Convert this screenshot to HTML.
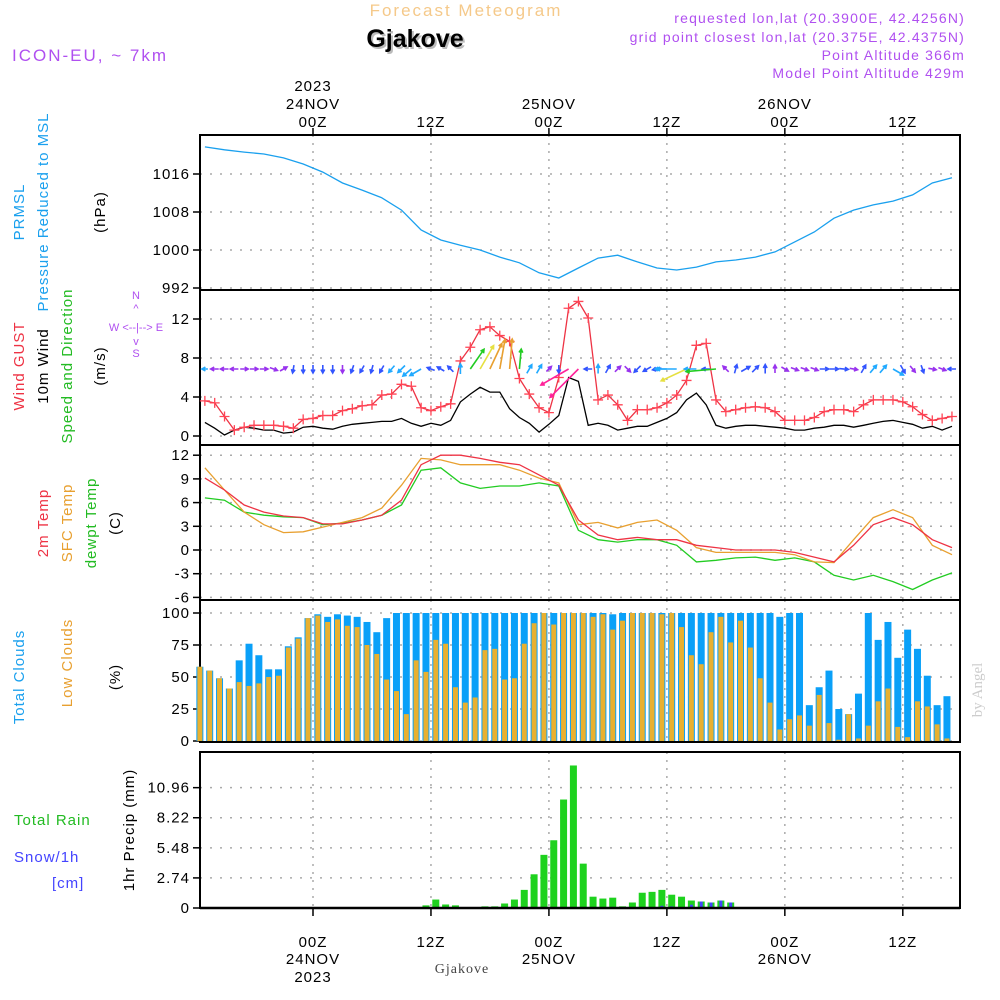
<!DOCTYPE html>
<html><head><meta charset="utf-8"><style>
body{margin:0;background:#fff;}
svg{display:block;font-family:"Liberation Sans",sans-serif;}
.t{font-size:15px;letter-spacing:1px;}
</style></head><body>
<svg id="c" width="1000" height="1000" xmlns="http://www.w3.org/2000/svg">
<text x="466" y="16" text-anchor="middle" fill="#f5c98a" style="font-size:17px;letter-spacing:2px">Forecast Meteogram</text>
<text x="417" y="49" text-anchor="middle" fill="#bbb" style="font-size:25px;font-weight:bold">Gjakove</text>
<text x="415" y="47" text-anchor="middle" fill="#000" style="font-size:25px;font-weight:bold">Gjakove</text>
<text x="12" y="61" fill="#b050f0" style="font-size:17px;letter-spacing:2px">ICON-EU, ~ 7km</text>
<g fill="#b050f0" text-anchor="end" style="font-size:14px;letter-spacing:1.2px">
<text x="965" y="23">requested lon,lat (20.3900E, 42.4256N)</text>
<text x="965" y="42">grid point closest lon,lat (20.375E, 42.4375N)</text>
<text x="965" y="60">Point Altitude 366m</text>
<text x="965" y="78">Model Point Altitude 429m</text>
</g>
<g id="axes"></g>
<g id="marks"></g>
<g class="t">
<text transform="translate(24,212) rotate(-90)" text-anchor="middle" fill="#1aa0ee">PRMSL</text>
<text transform="translate(48,212) rotate(-90)" text-anchor="middle" fill="#1aa0ee">Pressure Reduced to MSL</text>
<text transform="translate(105,212) rotate(-90)" text-anchor="middle" fill="#000">(hPa)</text>
<text transform="translate(24,366) rotate(-90)" text-anchor="middle" fill="#ee3344">Wind GUST</text>
<text transform="translate(48,366) rotate(-90)" text-anchor="middle" fill="#000">10m Wind</text>
<text transform="translate(72,366) rotate(-90)" text-anchor="middle" fill="#22bb22">Speed and Direction</text>
<text transform="translate(105,366) rotate(-90)" text-anchor="middle" fill="#000">(m/s)</text>
<text transform="translate(48,523) rotate(-90)" text-anchor="middle" fill="#ee3344">2m Temp</text>
<text transform="translate(72,523) rotate(-90)" text-anchor="middle" fill="#e8a030">SFC Temp</text>
<text transform="translate(96,523) rotate(-90)" text-anchor="middle" fill="#22bb22">dewpt Temp</text>
<text transform="translate(120,523) rotate(-90)" text-anchor="middle" fill="#000">(C)</text>
<text transform="translate(24,677) rotate(-90)" text-anchor="middle" fill="#1aa0ee">Total Clouds</text>
<text transform="translate(72,663) rotate(-90)" text-anchor="middle" fill="#e8a030">Low Clouds</text>
<text transform="translate(120,677) rotate(-90)" text-anchor="middle" fill="#000">(%)</text>
<text x="14" y="825" fill="#22bb22">Total  Rain</text>
<text x="14" y="862" fill="#4444ff">Snow/1h</text>
<text x="52" y="888" fill="#4444ff">[cm]</text>
<text transform="translate(134,830) rotate(-90)" text-anchor="middle" fill="#000">1hr Precip (mm)</text>
</g>
<g fill="#b050f0" style="font-size:11px" text-anchor="middle">
<text x="136" y="299">N</text><text x="136" y="312">^</text>
<text x="136" y="331">W &lt;--|--&gt; E</text>
<text x="136" y="345">v</text><text x="136" y="357">S</text>
</g>
<text x="462" y="973" text-anchor="middle" fill="#444" style="font-size:14px;font-family:'Liberation Serif',serif;letter-spacing:1px">Gjakove</text>
<text transform="translate(982,690) rotate(-90)" text-anchor="middle" fill="#ccc" style="font-size:15px;font-family:'Liberation Serif',serif">by Angel</text>
</svg>
<script>
const NS="http://www.w3.org/2000/svg";
// ---- data ----
const pressHours=[-11,-9,-7,-5,-3,-1,1,3,5,7,9,11,13,15,17,19,21,23,25,27,29,31,33,35,37,39,41,43,45,47,49,51,53,55,57,59,61,63,65];
const pressure=[1021.7,1021.1,1020.6,1020.2,1019.4,1018.1,1016.4,1014.1,1012.6,1011,1008.4,1004.2,1002.1,1001,1000,998.5,997.3,995.2,994.1,996.2,998.3,998.9,997.5,996.2,995.8,996.4,997.5,997.9,998.5,999.6,1001.7,1003.8,1006.7,1008.4,1009.5,1010.3,1011.6,1014.1,1015.2];
const temp2m=[9.1,7.6,5.7,4.8,4.3,4.1,3.3,3.3,3.8,4.4,6.3,10.8,12,12,11.6,11.1,10.8,9.5,8.2,3.8,1.9,1.3,1.6,1.3,1.3,0.6,0.3,0,0,0,-0.3,-0.9,-1.5,0.6,3.2,4.1,3.2,1.3,0.3];
const tempSfc=[10.4,7.6,4.8,3.2,2.2,2.3,2.9,3.5,4.1,5.3,8.2,11.6,11.4,10.8,10.8,10.8,10.1,9.1,8.5,3.2,3.5,2.8,3.5,3.8,2.5,0.3,-0.3,-0.3,-0.3,-0.3,-0.6,-1.5,-1.6,1.3,4.1,5.1,4.1,0.6,-0.6];
const dewpt=[6.6,6.3,4.8,4.4,4.2,4.1,3.2,3.4,3.8,4.4,5.7,10.1,10.4,8.5,7.8,8.1,8.1,8.5,8.1,2.5,1.3,1.0,1.3,1.3,0.6,-1.5,-1.3,-1.0,-0.9,-1.3,-1.0,-1.5,-3.2,-3.8,-3.2,-4,-5,-3.8,-2.9];
const hourStart=-11; // hourly series start at 23NOV 13Z
const gust=[3.6,3.4,2.0,0.6,0.9,1.1,1.1,1.1,1.0,0.8,1.7,1.8,2.1,2.1,2.6,2.8,3.1,3.2,4.2,4.3,5.3,5.1,2.9,2.6,3.0,3.3,7.7,9.1,10.9,11.2,10.3,9.7,5.9,4.3,2.9,2.4,6.0,13.1,13.8,
12.1,3.7,4.2,3.2,1.6,2.7,2.7,2.9,3.4,4.2,5.7,9.3,9.5,3.7,2.5,2.7,2.9,3.0,2.9,2.5,1.6,1.6,1.6,1.9,2.5,2.7,2.7,2.5,3.2,3.7,3.7,3.7,3.5,3.0,2.2,1.6,1.8,2.0];
const wind10m=[1.4,0.8,0.1,0.6,0.9,0.8,0.6,0.6,0.3,0.4,0.9,1.0,0.8,0.7,1.0,1.2,1.3,1.4,1.5,1.5,1.8,1.3,1.0,1.3,1.1,1.6,3.5,4.3,5.0,4.5,4.5,2.8,1.9,1.3,0.4,1.2,2.1,6.0,5.6,
1.1,1.3,1.1,0.6,0.8,1.0,1.0,1.4,1.8,2.4,3.7,4.4,3.2,1.1,0.8,1.0,1.1,1.1,1.0,0.9,0.8,0.6,0.6,0.8,0.9,1.1,1.1,0.9,1.1,1.3,1.5,1.6,1.4,1.2,0.8,1.0,0.6,1.0];
const windDir=[270,270,270,270,90,90,90,110,60,190,180,180,180,180,180,200,210,195,210,220,225,230,240,290,300,315,0,35,30,25,10,5,5,30,30,45,180,240,225,
270,0,30,45,135,225,240,260,270,270,245,270,270,265,315,15,60,45,0,0,120,110,110,110,90,90,95,100,30,40,40,120,150,140,160,100,110,270];
const arrowLen=[6,8,8,8,8,8,8,8,8,8,8,8,8,8,8,8,8,8,8,9,10,11,13,8,8,8,10,24,27,28,30,30,20,10,10,7,8,32,40,
8,9,9,8,8,9,9,9,12,20,28,12,8,30,8,9,10,9,9,8,8,8,8,8,9,9,9,8,9,10,10,12,9,8,8,8,8,8];
const arrowColor=["c","p","p","p","p","p","p","p","p","b","b","b","b","b","p","b","b","b","b","c","c","c","c","b","b","b","c","g","y","o","o","o","g","c","c","p","b","m","m",
"b","c","b","p","p","b","b","b","c","c","y","c","b","g","p","b","b","b","b","p","p","p","p","p","b","b","b","p","b","c","c","c","b","p","b","p","p","b"];
const totalCloud=[58,55,49,41,63,76,67,56,56,74,81,96,99,97,99,98,97,93,85,96,100,100,100,100,100,100,100,100,100,100,100,100,100,100,100,100,100,100,100,
100,100,100,99,100,100,100,100,100,100,100,100,100,100,100,100,100,100,100,100,97,100,100,28,42,55,25,21,37,100,79,93,65,87,72,51,28,35];
const lowCloud=[58,55,49,41,46,43,45,50,51,73,80,96,98,93,95,90,89,75,68,48,39,21,63,54,79,76,42,30,34,71,72,48,49,76,92,100,91,100,100,
100,97,99,87,94,100,100,100,99,100,89,67,60,85,97,77,94,73,49,30,9,17,20,12,36,14,1,21,2,12,31,41,11,3,31,27,13,2];
const rain=[0,0,0,0,0,0,0,0,0,0,0,0,0,0,0,0,0,0,0,0,0,0,0,0.24,0.77,0.32,0.24,0,0,0.15,0.15,0.41,0.77,1.65,3.07,4.84,6.17,9.88,12.98,4.04,1.03,0.86,0.94,0.15,0.5,1.39,1.47,1.65,1.21,1.03,0.68,0.59,0.5,0.68,0.5,0,0,0,0,0,0,0,0,0,0,0,0,0,0,0,0,0,0,0,0,0,0];
const snow=[0,0,0,0,0,0,0,0,0,0,0,0,0,0,0,0,0,0,0,0,0,0,0,0,0,0,0,0,0,0,0,0,0,0,0,0,0,0,0,0,0,0,0.1,0,0,0.05,0,0.2,0.15,0,0.3,0.59,0.5,0.68,0.5,0.05,0,0,0,0,0,0,0,0,0,0,0,0,0,0,0,0,0,0,0,0,0];
const pressTicks=[1016,1008,1000,992];
const windTicks=[12,8,4,0];
const tempTicks=[12,9,6,3,0,-3,-6];
const cloudTicks=[100,75,50,25,0];
const rainTicks=[10.96,8.22,5.48,2.74,0];
const timeTicks=[0,12,24,36,48,60];
const timeLabels=["00Z","12Z","00Z","12Z","00Z","12Z"];
const dateLabels=["24NOV","","25NOV","","26NOV",""];
// ---- scales ----
const xh=h=>313+9.83*h;
const yP=p=>250-(p-1000)*4.75;
const yW=v=>436-v*9.75;
const yT=t=>550-t*7.9;
const yC=c=>741-c*1.28;
const yR=r=>908-r*10.98;
const colors={p:"#9933ee",b:"#3355ff",c:"#22aaff",g:"#22cc22",y:"#e6e040",o:"#e8a030",m:"#ff2299"};
const axes=document.getElementById("axes"), marks=document.getElementById("marks");
function mk(tag,attrs,parent){const e=document.createElementNS(NS,tag);for(const k in attrs)e.setAttribute(k,attrs[k]);parent.appendChild(e);return e;}
const panels=[
 {name:"pressure",top:135,bot:290,ticks:pressTicks,y:yP,fmt:v=>v},
 {name:"wind",top:290,bot:445,ticks:windTicks,y:yW,fmt:v=>v},
 {name:"temp",top:445,bot:600,ticks:tempTicks,y:yT,fmt:v=>v},
 {name:"cloud",top:600,bot:742,ticks:cloudTicks,y:yC,fmt:v=>v},
 {name:"precip",top:752,bot:908,ticks:rainTicks,y:yR,fmt:v=>v}];
panels.forEach(p=>{
 const g=mk("g",{},axes);
 
 
 timeTicks.forEach(h=>{const l=mk("line",{x1:xh(h),x2:xh(h),y1:p.top,y2:p.bot,stroke:"#aaa","stroke-dasharray":"2,6","stroke-width":1.5},g);
  });
 p.ticks.forEach(v=>{const y=p.y(v);
  const l=mk("line",{x1:200,x2:960,y1:y,y2:y,stroke:"#aaa","stroke-dasharray":"2,8","stroke-width":1.5},g);
  
  mk("line",{x1:193,x2:200,y1:y,y2:y,stroke:"#000","stroke-width":1.5},g);
  const t=mk("text",{x:190,y:y+5,"text-anchor":"end",class:"t"},g);t.textContent=p.fmt(v);
  });
 const r=mk("rect",{x:200,y:p.top,width:760,height:p.bot-p.top,fill:"none",stroke:"#000","stroke-width":2},g);
 
});
// time axis labels
timeTicks.forEach((h,i)=>{
 mk("line",{x1:xh(h),x2:xh(h),y1:128,y2:135,stroke:"#000","stroke-width":1.5},axes);
 mk("line",{x1:xh(h),x2:xh(h),y1:908,y2:916,stroke:"#000","stroke-width":1.5},axes);
 let t=mk("text",{x:xh(h),y:127,"text-anchor":"middle",class:"t"},axes);t.textContent=timeLabels[i];
 
 t=mk("text",{x:xh(h),y:947,"text-anchor":"middle",class:"t"},axes);t.textContent=timeLabels[i];
 
 if(dateLabels[i]){
  t=mk("text",{x:xh(h),y:109,"text-anchor":"middle",class:"t"},axes);t.textContent=dateLabels[i];
  
  t=mk("text",{x:xh(h),y:964,"text-anchor":"middle",class:"t"},axes);t.textContent=dateLabels[i];
  }
});
let yr=mk("text",{x:xh(0),y:91,"text-anchor":"middle",class:"t"},axes);yr.textContent="2023";

yr=mk("text",{x:xh(0),y:982,"text-anchor":"middle",class:"t"},axes);yr.textContent="2023";

function line(hours,vals,y,color,name){
 const pts=vals.map((v,i)=>xh(hours[i]).toFixed(1)+","+y(v).toFixed(1)).join(" ");
 const e=mk("polyline",{points:pts,fill:"none",stroke:color,"stroke-width":1.3},marks);
 return e;}
const hourly=gust.map((_,i)=>hourStart+i);
// pressure
line(pressHours,pressure,yP,"#1aa0ee","pressure-line");
// wind
line(hourly,wind10m,yW,"#000","wind-speed-line");
line(hourly,gust,yW,"#ee3344","gust-line");
gust.forEach((v,i)=>{const x=xh(hourly[i]),y=yW(v);
 const c=mk("path",{d:`M${x-5},${y}h10M${x},${y-5}v10`,stroke:"#ff4455","stroke-width":1.3},marks);
 });
windDir.forEach((d,i)=>{
 const L=arrowLen[i],a=d*Math.PI/180,dx=Math.sin(a),dy=-Math.cos(a);
 let x0=xh(hourly[i]),y0=369;
 if(L<=10){x0-=dx*L/2;y0-=dy*L/2;}
 const x1=x0+dx*L,y1=y0+dy*L,hl=4;
 const b1=a+Math.PI-0.5,b2=a+Math.PI+0.5;
 const col=colors[arrowColor[i]];
 const ar=mk("path",{d:`M${x0.toFixed(1)},${y0.toFixed(1)}L${x1.toFixed(1)},${y1.toFixed(1)}M${(x1+Math.sin(b1)*hl).toFixed(1)},${(y1-Math.cos(b1)*hl).toFixed(1)}L${x1.toFixed(1)},${y1.toFixed(1)}L${(x1+Math.sin(b2)*hl).toFixed(1)},${(y1-Math.cos(b2)*hl).toFixed(1)}`,stroke:col,"stroke-width":1.6,fill:"none"},marks);
 });
// temps
line(pressHours,dewpt,yT,"#22cc22","dewpoint-line");
line(pressHours,tempSfc,yT,"#e8a030","sfc-temp-line");
line(pressHours,temp2m,yT,"#ee3344","temp-2m-line");
// clouds
totalCloud.forEach((v,i)=>{const xc=xh(hourly[i])-5;
 const b=mk("rect",{x:xc-3.5,y:yC(v),width:7,height:yC(0)-yC(v),fill:"#0aa0f8"},marks);
 
 const o=mk("rect",{x:xc-2.5,y:yC(lowCloud[i]),width:5,height:yC(0)-yC(lowCloud[i]),fill:"#e8b030"},marks);
 });
// precip
rain.forEach((v,i)=>{if(v<=0)return;const xc=xh(hourly[i])-5;
 const b=mk("rect",{x:xc-3.5,y:yR(v),width:7,height:yR(0)-yR(v),fill:"#1ed21e"},marks);
 });
snow.forEach((v,i)=>{if(v<=0)return;const xc=xh(hourly[i])-5;
 const b=mk("rect",{x:xc-1.5,y:yR(v),width:3,height:yR(0)-yR(v),fill:"#4444ff"},marks);
 });
mk("line",{x1:200,x2:960,y1:908,y2:908,stroke:"#000","stroke-width":2.5},marks);
</script>
</body></html>
